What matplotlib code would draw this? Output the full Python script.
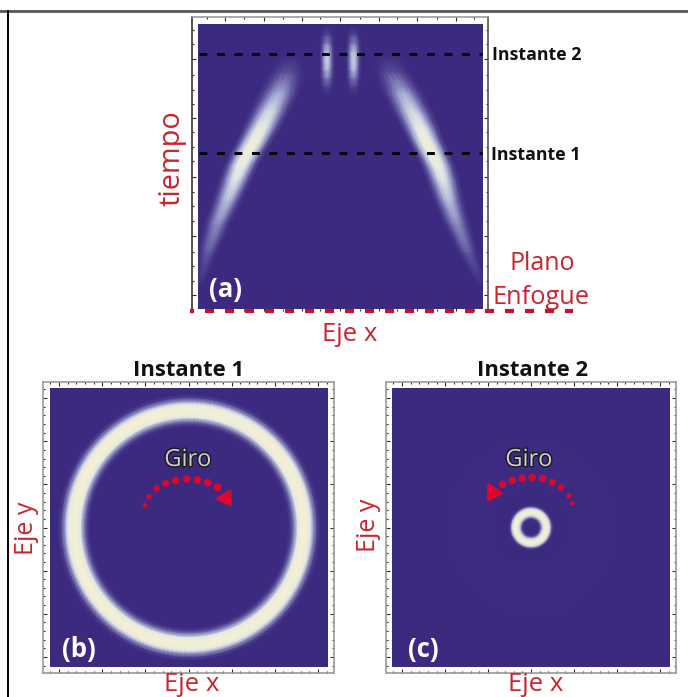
import numpy as np
import matplotlib
matplotlib.use('Agg')
from matplotlib import pyplot as plt
from matplotlib.colors import LinearSegmentedColormap
from matplotlib.patches import Polygon
import matplotlib.patheffects as pe

# values
# panel (a): ridge of each branch, one row per time
branch_t = [0.09, 0.20, 0.30, 0.38, 0.45, 0.50, 0.55, 0.59, 0.64, 0.70, 0.76, 0.83, 0.89]
left_x = [0.006, 0.035, 0.068, 0.102, 0.130, 0.150, 0.175, 0.198, 0.225, 0.255, 0.285, 0.312, 0.325]
right_x = [0.994, 0.947, 0.908, 0.880, 0.860, 0.843, 0.820, 0.800, 0.778, 0.748, 0.718, 0.682, 0.665]
branch_half = [0.024, 0.040, 0.050, 0.056, 0.060, 0.062, 0.064, 0.066, 0.070, 0.074, 0.076, 0.072, 0.062]
branch_peak = [0.0, 0.20, 0.38, 0.56, 0.76, 0.90, 1.0, 1.0, 0.86, 0.68, 0.48, 0.16, 0.0]
across = [-1.0, -0.75, -0.5, -0.25, 0.0, 0.25, 0.5, 0.75, 1.0]
across_profile = [0.0, 0.16, 0.50, 0.86, 1.0, 0.86, 0.50, 0.16, 0.0]

spot_t = [0.75, 0.78, 0.81, 0.84, 0.87, 0.90, 0.93, 0.96, 0.99]
spot_peak = [0.0, 0.10, 0.32, 0.54, 0.64, 0.60, 0.36, 0.14, 0.0]
spot_x = [0.453, 0.546]
spot_half = 0.028

instante_t = {'Instante 1': 0.548, 'Instante 2': 0.895}

# panels (b) and (c): radial profiles, axes run from -1 to 1
ring_b_r = [0.0, 0.70, 0.725, 0.75, 0.775, 0.80, 0.84, 0.865, 0.89, 0.915, 0.94, 1.0]
ring_b_v = [0.0, 0.0, 0.08, 0.35, 0.80, 1.0, 1.0, 0.80, 0.35, 0.08, 0.0, 0.0]
ring_c_r = [0.0, 0.05, 0.065, 0.08, 0.095, 0.125, 0.138, 0.15, 0.165, 0.28, 0.42, 0.58, 0.72]
ring_c_v = [0.0, 0.0, 0.15, 0.62, 0.98, 0.98, 0.60, 0.12, 0.0, 0.004, 0.014, 0.006, 0.0]

major_bc = [-0.93, -0.62, -0.31, 0.0, 0.31, 0.62, 0.93]
minor_bc = [-1.0, -0.868, -0.806, -0.744, -0.682, -0.558, -0.496, -0.434, -0.372, -0.248, -0.186,
            -0.124, -0.062, 0.062, 0.124, 0.186, 0.248, 0.372, 0.434, 0.496, 0.558, 0.682,
            0.744, 0.806, 0.868, 1.0]
major_a_y = [0.05, 0.255, 0.465, 0.67, 0.876]
minor_a_y = [0.10, 0.15, 0.20, 0.31, 0.36, 0.41, 0.52, 0.57, 0.62, 0.72, 0.77, 0.82, 0.93, 0.98]
major_a_x = [0.095, 0.23, 0.365, 0.50, 0.635, 0.77, 0.905]
minor_a_x = [0.03, 0.16, 0.30, 0.43, 0.57, 0.70, 0.84, 0.97]

giro_b = ([435, 447, 470, 497, 527, 560, 592, 623, 652], [466, 440, 415, 400, 392, 387, 390, 398, 412])
giro_c = ([682, 672, 648, 622, 593, 562, 532, 502, 473], [460, 437, 412, 397, 385, 382, 385, 391, 403])
giro_size = [10, 14, 20, 24, 28, 30, 30, 30, 30]

W, H = 688, 697
BG = '#3b2a80'
RED = '#c9252b'
cmap = LinearSegmentedColormap.from_list(
    'campo', [(0.0, BG), (0.25, '#6f68aa'), (0.5, '#abb3d8'), (0.75, '#e0e7ea'), (1.0, '#f3efd6')])

plt.rcParams['font.family'] = ['Open Sans', 'DejaVu Sans']
fig = plt.figure(figsize=(W / 100, H / 100), dpi=100, facecolor='white')


def px_axes(x0, y0, x1, y1, **kw):
    # axes placed by pixel box, y counted from the top as in the picture
    return fig.add_axes([x0 / W, 1 - y1 / H, (x1 - x0) / W, (y1 - y0) / H], **kw)


def frame(box, xlim, ylim, xmajor, xminor, ymajor, yminor, color='#9a9a9a'):
    ax = px_axes(*box)
    ax.set_xlim(*xlim)
    ax.set_ylim(*ylim)
    ax.set_xticks(xmajor)
    ax.set_xticks(xminor, minor=True)
    ax.set_yticks(ymajor)
    ax.set_yticks(yminor, minor=True)
    ax.tick_params(which='both', direction='in', top=True, right=True, color='#2a2a2a',
                   labelbottom=False, labelleft=False, width=0.8)
    ax.tick_params(which='major', length=3)
    ax.tick_params(which='minor', length=1.5)
    for s in ax.spines.values():
        s.set_color(color)
        s.set_linewidth(1.2)
    return ax


def ring(ax, r, v, sx=1.0, sy=1.0):
    theta = np.linspace(0, 2 * np.pi, 181)
    R, T = np.meshgrid(r, theta)
    C = np.tile(v, (len(theta), 1))
    ax.pcolormesh(sx * R * np.cos(T), sy * R * np.sin(T), C, shading='gouraud',
                  cmap=cmap, vmin=0, vmax=1)


def branch(ax, t, x, half, peak):
    T = np.tile(np.asarray(t)[:, None], (1, len(across)))
    X = np.asarray(x)[:, None] + np.asarray(half)[:, None] * np.asarray(across)
    C = np.asarray(peak)[:, None] * np.asarray(across_profile)
    ax.pcolormesh(X, T, C, shading='gouraud', cmap=cmap, vmin=0, vmax=1)


# region Panel (a)
fa = frame((192, 17, 488, 311), (-0.021, 1.018), (-0.007, 1.025),
           major_a_x, minor_a_x, major_a_y, minor_a_y)
fa.spines['bottom'].set_visible(False)
fa.spines['left'].set_color('#333333')
fa.spines['right'].set_color('#555555')
ax_a = px_axes(198, 24, 483, 309, facecolor=BG)
ax_a.set_xlim(0, 1)
ax_a.set_ylim(0, 1)
ax_a.axis('off')
ax_a.add_patch(plt.Rectangle((0, 0), 1, 1, color=BG, zorder=0))
branch(ax_a, branch_t, left_x, branch_half, branch_peak)
branch(ax_a, branch_t, right_x, branch_half, branch_peak)
for sx_ in spot_x:
    branch(ax_a, spot_t, [sx_] * len(spot_t), [spot_half] * len(spot_t), spot_peak)
for name, t in instante_t.items():
    ax_a.plot([0.005, 0.995], [t, t], color='black', lw=2.1, dash_capstyle='butt',
              linestyle=(0, (2.7, 3.3)), zorder=5)
# endregion

# region Panels (b) and (c)
for box, img, r, v, sx, sy in [((43, 382, 334, 673), (50, 388, 328, 667), ring_b_r, ring_b_v, 1.01, 1.02),
                               ((386, 382, 676, 673), (392, 388, 670, 667), ring_c_r, ring_c_v, 1.0, 1.0)]:
    frame(box, (-1.047, 1.047), (-1.047, 1.047), major_bc, minor_bc, major_bc, minor_bc)
    ax = px_axes(*img, facecolor=BG)
    ax.set_xlim(-1, 1)
    ax.set_ylim(-1, 1)
    ax.axis('off')
    ax.add_patch(plt.Rectangle((-1, -1), 2, 2, color=BG, zorder=0))
    ring(ax, r, v, sx, sy)
# endregion

# region Overlay, in picture pixels
ov = fig.add_axes([0, 0, 1, 1], facecolor='none')
ov.set_xlim(0, W)
ov.set_ylim(H, 0)
ov.axis('off')
ov.plot([0, W], [11, 11], color='#555555', lw=2)
ov.plot([8, 8], [11, H], color='black', lw=1.4)
ov.plot([190, 573], [310.5, 310.5], color='#c8102e', lw=3, dash_capstyle='butt',
        linestyle=(1.2, (2.16, 2.64)))

ov.scatter(np.array(giro_b[0]) / 3, 350 + np.array(giro_b[1]) / 3, s=giro_size, color='#e0062b', lw=0)
ov.scatter(345 + np.array(giro_c[0]) / 3, 350 + np.array(giro_c[1]) / 3, s=giro_size, color='#e0062b', lw=0)
ov.add_patch(Polygon([(216, 498.5), (231, 490), (231, 506)], color='#e0062b'))
ov.add_patch(Polygon([(487.5, 501), (488, 483.5), (502.5, 493.5)], color='#e0062b'))

bold = dict(ha='center', va='center', weight='bold')
ov.text(492, 55, 'Instante 2', ha='left', va='center', weight='bold', fontsize=12.8, color='#111111')
ov.text(491, 155, 'Instante 1', ha='left', va='center', weight='bold', fontsize=12.8, color='#111111')
ov.text(189, 370, 'Instante 1', fontsize=15.8, color='#111111', **bold)
ov.text(533, 370, 'Instante 2', fontsize=15.8, color='#111111', **bold)
ov.text(225, 290, '(a)', fontsize=18.5, color='white', **bold)
ov.text(79, 649, '(b)', fontsize=18.5, color='white', **bold)
ov.text(423, 649, '(c)', fontsize=18.5, color='white', **bold)

red = dict(ha='center', va='center', color=RED)
ov.text(172, 158, 'tiempo', rotation=90, fontsize=20.8, **red)
ov.text(350, 334.5, 'Eje x', fontsize=18.5, **red)
ov.text(542, 264, 'Plano', fontsize=18, **red)
ov.text(541, 298, 'Enfogue', fontsize=18.3, **red)
ov.text(26.5, 528, 'Eje y', rotation=90, fontsize=18, **red)
ov.text(368.5, 525, 'Eje y', rotation=90, fontsize=18, **red)
ov.text(192, 684.5, 'Eje x', fontsize=18.5, **red)
ov.text(536, 684.5, 'Eje x', fontsize=18.5, **red)

for x in (188, 529):
    ov.text(x, 460, 'Giro', ha='center', va='center', fontsize=17, color='#cfcfcf',
            path_effects=[pe.withStroke(linewidth=2.0, foreground='#1a1a1a')])
# endregion

fig.savefig('out.png', dpi=100)
